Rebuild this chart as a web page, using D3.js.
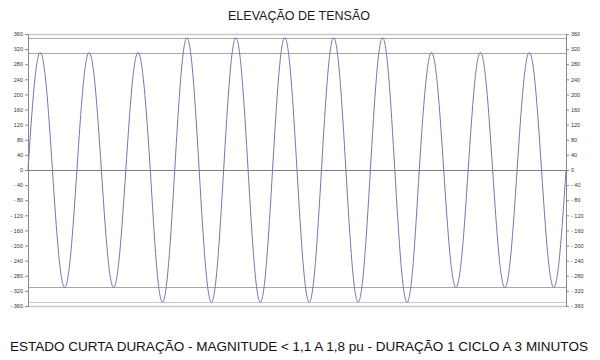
<!DOCTYPE html>
<html><head><meta charset="utf-8">
<script src="https://cdn.jsdelivr.net/npm/d3@7"></script>
<style>
html,body{margin:0;padding:0;background:#fff;}
svg{display:block;font-family:Arial,"Liberation Sans",sans-serif;}
</style></head>
<body>
<svg id="chart" width="600" height="360"></svg>
<script>
// ---- data ----
const titleText = "ELEVAÇÃO DE TENSÃO";
const footerText = "ESTADO CURTA DURAÇÃO - MAGNITUDE < 1,1 A 1,8 pu - DURAÇÃO 1 CICLO A 3 MINUTOS";
const yTicks = [-360,-320,-280,-240,-200,-160,-120,-80,-40,0,40,80,120,160,200,240,280,320,360];
const refLevels = [360, 350, 311, 0, -311, -350, -360];
// voltage samples, 8 per cycle, 11 cycles
const voltage = [
  0,220,311,220,0,-220,-311,-220,
  0,220,311,220,0,-220,-311,-220,
  0,220,311,220,0,-247,-350,-247,
  0,247,350,247,0,-247,-350,-247,
  0,247,350,247,0,-247,-350,-247,
  0,247,350,247,0,-247,-350,-247,
  0,247,350,247,0,-247,-350,-247,
  0,247,350,247,0,-247,-350,-247,
  0,220,311,220,0,-220,-311,-220,
  0,220,311,220,0,-220,-311,-220,
  0,220,311,220,0,-220,-311,-220,
  0
];

const svg = d3.select("#chart");
const L = 28, R = 566, T = 34, B = 306;
const x = d3.scaleLinear().domain([0, voltage.length - 1]).range([L, R]);
const y = d3.scaleLinear().domain([-360, 360]).range([B, T]);

const fmt = v => v < 0 ? "- " + Math.abs(v) : String(v);

// reference lines
const refStyle = {360:"#c8c8c8", "-360":"#c8c8c8", 350:"#a8a8a8", "-350":"#c8c8c8", 311:"#a8a8a8", "-311":"#a8a8a8", 0:"#808080"};
svg.append("g").selectAll("line").data(refLevels).join("line")
  .attr("x1", L).attr("x2", R)
  .attr("y1", d => Math.round(y(d)) + 0.5).attr("y2", d => Math.round(y(d)) + 0.5)
  .attr("stroke", d => refStyle[d]).attr("stroke-width", d => Math.abs(d) === 360 ? 1.5 : 1);

// axes
const axL = svg.append("g").attr("transform", `translate(${L},0)`)
  .call(d3.axisLeft(y).tickValues(yTicks).tickFormat(fmt).tickSize(3).tickPadding(2));
const axR = svg.append("g").attr("transform", `translate(${R},0)`)
  .call(d3.axisRight(y).tickValues(yTicks).tickFormat(fmt).tickSize(3).tickPadding(2));
[axL, axR].forEach(a => {
  a.select(".domain").attr("stroke", "#888");
  a.selectAll(".tick line").attr("stroke", "#888");
  a.selectAll(".tick text").attr("font-size", 5.5).attr("fill", "#333")
    .attr("font-family", "Arial, 'Liberation Sans', sans-serif");
});

// waveform
const line = d3.line().x((d, i) => x(i)).y(d => y(d)).curve(d3.curveNatural);
svg.append("path").datum(voltage)
  .attr("d", line).attr("fill", "none")
  .attr("stroke", "#7676b0").attr("stroke-width", 1);

// texts
svg.append("text").attr("x", 299).attr("y", 19.5).attr("text-anchor", "middle")
  .attr("font-size", 12.5).attr("fill", "#1a1a1a").text(titleText);
svg.append("text").attr("x", 299).attr("y", 351).attr("text-anchor", "middle")
  .attr("font-size", 13.5).attr("fill", "#111").text(footerText);
</script>
</body></html>
